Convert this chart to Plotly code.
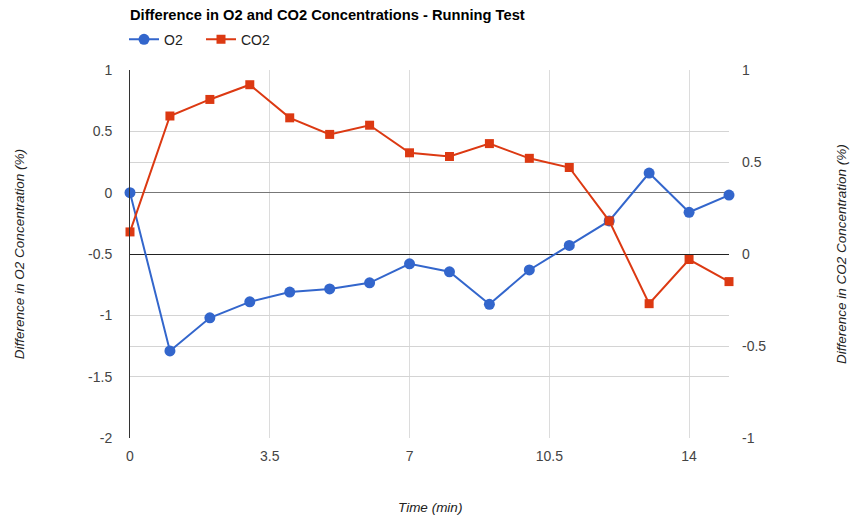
import plotly.graph_objects as go

# Time points (minutes) and concentration differences (%)
time_min = [0, 1, 2, 3, 4, 5, 6, 7, 8, 9, 10, 11, 12, 13, 14, 15]
o2_diff = [0.0, -1.29, -1.02, -0.89, -0.81, -0.785, -0.735, -0.58, -0.645,
           -0.91, -0.63, -0.43, -0.23, 0.16, -0.16, -0.02]
co2_diff = [0.12, 0.75, 0.84, 0.92, 0.74, 0.65, 0.70, 0.55, 0.53,
            0.60, 0.52, 0.47, 0.18, -0.27, -0.03, -0.15]

x_ticks = [0, 3.5, 7, 10.5, 14]
x_tick_text = ["0", "3.5", "7", "10.5", "14"]

o2_ticks = [1, 0.5, 0, -0.5, -1, -1.5, -2]
o2_tick_text = ["1", "0.5", "0", "-0.5", "-1", "-1.5", "-2"]
co2_ticks = [1, 0.5, 0, -0.5, -1]
co2_tick_text = ["1", "0.5", "0", "-0.5", "-1"]

BLUE = "#3366CC"
RED = "#DC3912"
FONT = "Liberation Sans, Arial, sans-serif"

fig = go.Figure()
fig.add_trace(go.Scatter(
    x=time_min, y=o2_diff, name="O2", mode="lines+markers",
    line=dict(color=BLUE, width=2),
    marker=dict(symbol="circle", size=11, color=BLUE),
    cliponaxis=False, yaxis="y",
))
fig.add_trace(go.Scatter(
    x=time_min, y=co2_diff, name="CO2", mode="lines+markers",
    line=dict(color=RED, width=2),
    marker=dict(symbol="square", size=9, color=RED),
    cliponaxis=False, yaxis="y2",
))

fig.update_layout(
    width=854, height=522,
    margin=dict(l=130, r=125, t=70, b=84, autoexpand=False),
    paper_bgcolor="white", plot_bgcolor="white",
    font=dict(family=FONT, size=14, color="#444"),
    title=dict(
        text="<b>Difference in O2 and CO2 Concentrations - Running Test</b>",
        font=dict(family=FONT, size=14.7, color="#000"),
        xref="paper", x=0, xanchor="left",
        yref="container", y=0.971, yanchor="middle",
    ),
    legend=dict(
        orientation="h", xref="paper", x=-0.01, xanchor="left",
        yref="container", y=0.924, yanchor="middle",
        font=dict(family=FONT, size=14, color="#222"),
        itemwidth=30, entrywidth=32, entrywidthmode="pixels",
        tracegroupgap=0, bgcolor="rgba(0,0,0,0)",
    ),
    showlegend=True,
    xaxis=dict(
        range=[0, 15], tickvals=x_ticks, ticktext=x_tick_text,
        showgrid=True, gridcolor="#dcdcdc", gridwidth=1,
        zeroline=False, showline=False, ticks="",
        ticklabelstandoff=8,
        tickfont=dict(size=14, color="#444"),
    ),
    yaxis=dict(
        range=[-2, 1], tickvals=o2_ticks, ticktext=o2_tick_text,
        showgrid=True, gridcolor="#d4d4d4", gridwidth=1,
        zeroline=True, zerolinecolor="#777", zerolinewidth=1,
        showline=True, linecolor="#333", linewidth=1,
        ticks="", ticklabelstandoff=14,
        tickfont=dict(size=14, color="#444"),
    ),
    yaxis2=dict(
        range=[-1, 1], tickvals=co2_ticks, ticktext=co2_tick_text,
        overlaying="y", side="right",
        showgrid=True, gridcolor="#d4d4d4", gridwidth=1,
        zeroline=True, zerolinecolor="#222", zerolinewidth=1,
        showline=False, ticks="", ticklabelstandoff=12,
        tickfont=dict(size=14, color="#444"),
    ),
    annotations=[
        dict(text="<i>Difference in O2 Concentration (%)</i>",
             xref="paper", yref="paper", x=-0.185, y=0.5, textangle=-90,
             showarrow=False, xanchor="center", yanchor="middle",
             font=dict(family=FONT, size=13.5, color="#222")),
        dict(text="<i>Difference in CO2 Concentration (%)</i>",
             xref="paper", yref="paper", x=1.187, y=0.5, textangle=-90,
             showarrow=False, xanchor="center", yanchor="middle",
             font=dict(family=FONT, size=13.5, color="#222")),
        dict(text="<i>Time (min)</i>",
             xref="paper", yref="paper", x=0.5, y=-0.19,
             showarrow=False, xanchor="center", yanchor="middle",
             font=dict(family=FONT, size=13.5, color="#222")),
    ],
)

fig.write_html("out.html")
